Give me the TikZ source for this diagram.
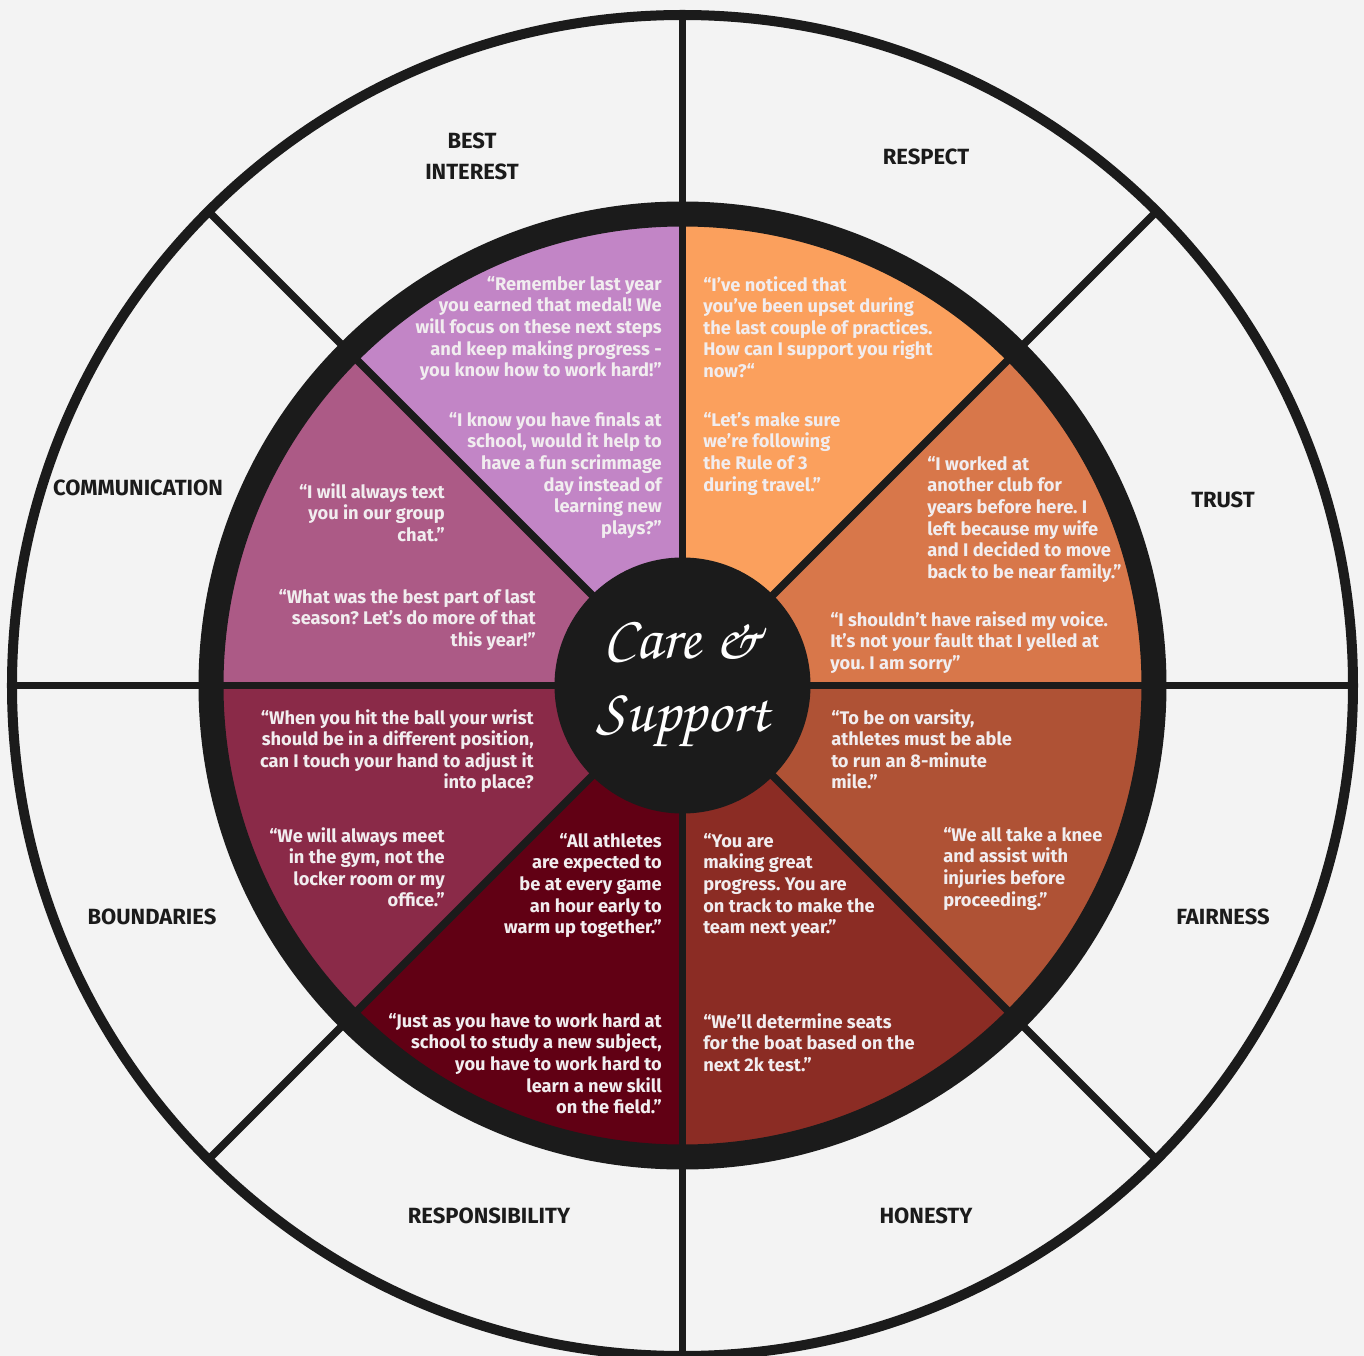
\documentclass[tikz,border=0pt]{standalone}
\usepackage[T1,TU]{fontenc}
\usepackage{fontspec}
\setmainfont{Fira Sans}
\usepackage{xcolor}
\usepackage{tikz}
\frenchspacing

\definecolor{bggray}{HTML}{F3F3F3}
\definecolor{ink}{HTML}{1B1B1B}
\definecolor{paper}{HTML}{F1EDEF}
\definecolor{cTrust}{HTML}{D8774A}
\definecolor{cRespect}{HTML}{FBA05D}
\definecolor{cBest}{HTML}{C285C6}
\definecolor{cComm}{HTML}{AC5A86}
\definecolor{cBound}{HTML}{8A2A48}
\definecolor{cResp}{HTML}{610014}
\definecolor{cHonest}{HTML}{8B2C24}
\definecolor{cFair}{HTML}{AF5235}
\newcommand{\careface}{\fontencoding{T1}\fontfamily{pzc}\fontseries{mb}\fontshape{it}\selectfont}

\begin{document}
\begin{tikzpicture}[x=0.75pt,y=0.75pt,
  quote/.style={text=paper,font=\bfseries\fontsize{13.7}{16.2}\selectfont,inner sep=0pt},
  qleft/.style={quote,anchor=north west,align=left},
  qright/.style={quote,anchor=north east,align=right},
  value/.style={text=ink,font=\bfseries\fontsize{16.5}{23.25}\selectfont,align=center,inner sep=0pt},
  spoke/.style={ink,line width=5.6pt}]
\useasboundingbox (-682.5,-670.5) rectangle (681.5,685.5);
\fill[bggray] (-682.5,-670.5) rectangle (681.5,685.5);

% Wheel
\foreach \a/\c in {0/cTrust,45/cRespect,90/cBest,135/cComm,180/cBound,225/cResp,270/cHonest,315/cFair}
  \fill[\c] (0,0) -- (\a:472) arc[start angle=\a,end angle=\a+45,radius=472] -- cycle;
\foreach \a in {0,45,...,315}
  \draw[spoke] (0,0) -- (\a:670.5);
\draw[ink,line width=18.75pt] (0,0) circle[radius=471.5];
\draw[ink,line width=7.5pt] (0,0) circle[radius=670.5];
\fill[ink] (0,0) circle[radius=128];

% Centre
\node[text=white,font=\careface\fontsize{46}{50}\selectfont] (care) at (0.5,45.5) {Care \&};
\node[text=white,font=\careface\fontsize{46}{50}\selectfont] (support) at (0.5,-36.5) {Support};

% Outer values
\node[value] (lblbest) at (-210.5,529) {BEST\\INTEREST};
\node[value] (lblrespect) at (243.5,528.5) {RESPECT};
\node[value] (lbltrust) at (540.5,185.5) {TRUST};
\node[value] (lblfair) at (540.5,-231.5) {FAIRNESS};
\node[value] (lblhonest) at (243.5,-530.5) {HONESTY};
\node[value] (lblresp) at (-193.5,-530.5) {RESPONSIBILITY};
\node[value] (lblbound) at (-530.5,-231.5) {BOUNDARIES};
\node[value] (lblcomm) at (-544.5,197.5) {COMMUNICATION};

% Quotes, upper half
\node[qright] (best1) at (-20.5,409.5) {“Remember last year\\you earned that medal! We\\will focus on these next steps\\and keep making progress -\\you know how to work hard!”};
\node[qright] (best2) at (-20.5,273.5) {“I know you have finals at\\school, would it help to\\have a fun scrimmage\\day instead of\\learning new\\plays?”};
\node[qleft] (respect1) at (20.5,409.5) {“I’ve noticed that\\you’ve been upset during\\the last couple of practices.\\How can I support you right\\now?“};
\node[qleft] (respect2) at (20.5,273.5) {“Let’s make sure\\we’re following\\the Rule of 3\\during travel.”};
\node[qleft] (trust1) at (244.5,229.5) {“I worked at\\another club for\\years before here. I\\left because my wife\\and I decided to move\\back to be near family.”};
\node[qleft] (trust2) at (147.5,74.5) {“I shouldn’t have raised my voice.\\It’s not your fault that I yelled at\\you. I am sorry”};
\node[qright] (comm1) at (-237.5,202.5) {“I will always text\\you in our group\\chat.”};
\node[qright] (comm2) at (-146.5,96.5) {“What was the best part of last\\season? Let’s do more of that\\this year!”};

% Quotes, lower half
\node[qleft] (fair1) at (148.5,-23.5) {“To be on varsity,\\athletes must be able\\to run an 8-minute\\mile.”};
\node[qleft] (fair2) at (260.5,-141.5) {“We all take a knee\\and assist with\\injuries before\\proceeding.”};
\node[qleft] (honest1) at (20.5,-147.5) {“You are\\making great\\progress. You are\\on track to make the\\team next year.”};
\node[qleft] (honest2) at (20.5,-327.5) {“We’ll determine seats\\for the boat based on the\\next 2k test.”};
\node[qright] (resp1) at (-20.5,-147.5) {“All athletes\\are expected to\\be at every game\\an hour early to\\warm up together.”};
\node[qright] (resp2) at (-20.5,-327.5) {“Just as you have to work hard at\\school to study a new subject,\\you have to work hard to\\learn a new skill\\on the field.”};
\node[qright] (bound1) at (-148.5,-23.5) {“When you hit the ball your wrist\\should be in a different position,\\can I touch your hand to adjust it\\into place?};
\node[qright] (bound2) at (-237.5,-141.5) {“We will always meet\\in the gym, not the\\locker room or my\\office.”};
\end{tikzpicture}
\end{document}
